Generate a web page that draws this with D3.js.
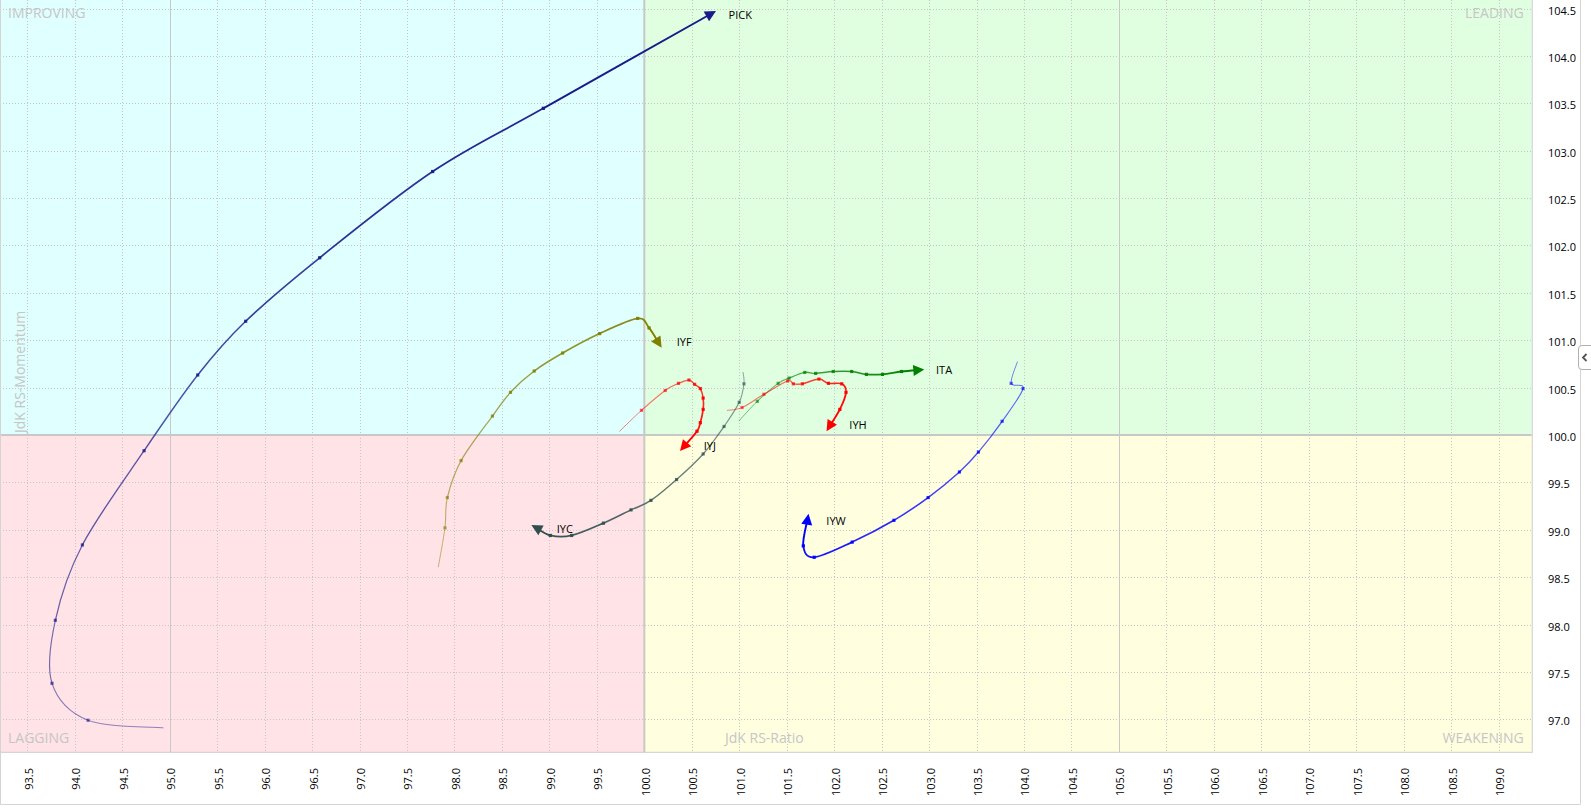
<!DOCTYPE html>
<html><head><meta charset="utf-8">
<script src="https://cdn.jsdelivr.net/npm/d3@7"></script>
<style>
html,body{margin:0;padding:0;background:#fff;overflow:hidden;}
svg{display:block;font-family:"Open Sans",sans-serif;}
</style></head><body>
<svg id="chart" width="1591" height="811"></svg>
<script>
// ---------- DATA ----------
const xTickLabels = ["93.5","94.0","94.5","95.0","95.5","96.0","96.5","97.0","97.5","98.0","98.5","99.0","99.5","100.0","100.5","101.0","101.5","102.0","102.5","103.0","103.5","104.0","104.5","105.0","105.5","106.0","106.5","107.0","107.5","108.0","108.5","109.0"];
const yTickLabels = ["97.0","97.5","98.0","98.5","99.0","99.5","100.0","100.5","101.0","101.5","102.0","102.5","103.0","103.5","104.0","104.5"];
const quadrantNames = ["IMPROVING","LEADING","LAGGING","WEAKENING"];
const xAxisTitle = "JdK RS-Ratio";
const yAxisTitle = "JdK RS-Momentum";
const symbols = ["PICK","IYF","IYC","IYJ","ITA","IYH","IYW"];

const pickRatio    = [94.93, 94.14, 93.76, 93.795, 94.08, 94.73, 95.295, 95.80, 96.58, 97.77, 98.936, 100.755];
const pickMomentum = [96.91, 96.99, 97.38, 98.045, 98.84, 99.834, 100.633, 101.20, 101.87, 102.78, 103.447, 104.474];

const iyfRatio     = [97.83, 97.90, 97.925, 98.07, 98.40, 98.59, 98.84, 99.14, 99.53, 99.93, 100.05, 100.183];
const iyfMomentum  = [98.61, 99.02, 99.34, 99.73, 100.20, 100.45, 100.675, 100.865, 101.07, 101.23, 101.13, 100.921];

const iycRatio     = [101.04, 101.05, 101.0, 100.84, 100.62, 100.34, 100.07, 99.86, 99.57, 99.235, 99.01, 98.81];
const iycMomentum  = [100.66, 100.54, 100.345, 100.09, 99.80, 99.53, 99.31, 99.21, 99.07, 98.94, 98.94, 99.05];

const iyjRatio     = [99.74, 99.97, 100.22, 100.36, 100.47, 100.53, 100.59, 100.62, 100.62, 100.59, 100.555, 100.376];
const iyjMomentum  = [100.04, 100.26, 100.47, 100.545, 100.58, 100.535, 100.49, 100.39, 100.27, 100.13, 100.04, 99.83];

const itaRatio     = [100.998, 101.19, 101.41, 101.525, 101.69, 101.805, 101.99, 102.185, 102.34, 102.51, 102.71, 102.95];
const itaMomentum  = [100.15, 100.355, 100.545, 100.60, 100.66, 100.65, 100.67, 100.67, 100.64, 100.64, 100.67, 100.69];

const iyhRatio     = [100.875, 101.03, 101.26, 101.51, 101.57, 101.665, 101.84, 101.94, 102.08, 102.125, 102.06, 101.92];
const iyhMomentum  = [100.26, 100.29, 100.43, 100.57, 100.54, 100.54, 100.59, 100.545, 100.54, 100.45, 100.27, 100.04];

const iywRatio     = [103.93, 103.865, 103.99, 103.77, 103.52, 103.32, 102.99, 102.63, 102.19, 101.79, 101.675, 101.73];
const iywMomentum  = [100.77, 100.545, 100.49, 100.145, 99.82, 99.61, 99.34, 99.10, 98.87, 98.71, 98.83, 99.17];

// ---------- STYLE ----------
const seriesColors = ["#1a1a8a","#808000","#2f4f4f","#ff0000","#008000","#ff0000","#0000ff"];
const quadrantFills = ["#e0ffff","#e0ffe0","#ffe3e7","#ffffe0"];

const series = [
  [pickRatio, pickMomentum], [iyfRatio, iyfMomentum], [iycRatio, iycMomentum],
  [iyjRatio, iyjMomentum], [itaRatio, itaMomentum], [iyhRatio, iyhMomentum], [iywRatio, iywMomentum]
].map((d, i) => ({ name: symbols[i], color: seriesColors[i], pts: d[0].map((r, k) => [r, d[1][k]]) }));

// ---------- LAYOUT ----------
const W = 1531.7, H = 752.3;
const x = d3.scaleLinear().domain([93.212, 109.349]).range([0, W]);
const y = d3.scaleLinear().domain([96.652, 104.59]).range([H, 0]);
const svg = d3.select("#chart");

const xVals = xTickLabels.map(Number);
const yVals = yTickLabels.map(Number);
const [xd0, xd1] = x.domain(), [yd0, yd1] = y.domain();

// quadrants
const quads = [
  {x0: xd0, x1: 100, y0: 100, y1: yd1},
  {x0: 100, x1: xd1, y0: 100, y1: yd1},
  {x0: xd0, x1: 100, y0: yd0, y1: 100},
  {x0: 100, x1: xd1, y0: yd0, y1: 100}
];
svg.append("g").selectAll("rect").data(quads).join("rect")
  .attr("x", d => x(d.x0)).attr("y", d => y(d.y1))
  .attr("width", d => x(d.x1) - x(d.x0)).attr("height", d => y(d.y0) - y(d.y1))
  .attr("fill", (d, i) => quadrantFills[i]);

// grid
const grid = svg.append("g");
xVals.forEach(v => {
  const px = Math.round(x(v)) + 0.5;
  const major = Math.abs(v % 5) < 1e-9;
  if (v === 100) return;
  grid.append("line").attr("x1", px).attr("x2", px).attr("y1", 0).attr("y2", H)
    .attr("stroke", major ? "#c8c8c8" : "#c6c6c6")
    .attr("stroke-dasharray", major ? null : "1,2");
});
yVals.forEach(v => {
  if (v === 100) return;
  const py = Math.round(y(v)) + 0.5;
  grid.append("line").attr("x1", 0).attr("x2", W).attr("y1", py).attr("y2", py)
    .attr("stroke", "#c6c6c6").attr("stroke-dasharray", "1,2");
});
grid.append("line").attr("x1", x(100)).attr("x2", x(100)).attr("y1", 0).attr("y2", H)
  .attr("stroke", "#c8c8c8").attr("stroke-width", 2);
grid.append("line").attr("x1", 0).attr("x2", W).attr("y1", y(100)).attr("y2", y(100))
  .attr("stroke", "#c8c8c8").attr("stroke-width", 2);

// quadrant labels
const ql = svg.append("g").attr("font-size", 14).attr("fill", "#c6c6c6");
ql.append("text").attr("x", 8).attr("y", 18).text(quadrantNames[0]);
ql.append("text").attr("x", W - 8).attr("y", 18).attr("text-anchor", "end").text(quadrantNames[1]);
ql.append("text").attr("x", 8).attr("y", 743).text(quadrantNames[2]);
ql.append("text").attr("x", W - 8).attr("y", 743).attr("text-anchor", "end").text(quadrantNames[3]);
ql.append("text").attr("x", 725).attr("y", 743).text(xAxisTitle);
ql.append("text").attr("transform", `translate(24.5,${y(100) - 2}) rotate(-90)`).text(yAxisTitle);

// plot border
svg.append("rect").attr("x", 0.5).attr("y", -1).attr("width", W).attr("height", H + 1)
  .attr("fill", "none").attr("stroke", "#cccccc");

// series
const tails = svg.append("g");
function bez(p0, p1, p2, p3) {
  const c1 = [p1[0] + (p2[0] - p0[0]) / 6, p1[1] + (p2[1] - p0[1]) / 6];
  const c2 = [p2[0] - (p3[0] - p1[0]) / 6, p2[1] - (p3[1] - p1[1]) / 6];
  const p = d3.path();
  p.moveTo(p1[0], p1[1]);
  p.bezierCurveTo(c1[0], c1[1], c2[0], c2[1], p2[0], p2[1]);
  return p.toString();
}
const L = 11, HW = 5.5;
series.forEach(s => {
  const P = s.pts.map(d => [x(d[0]), y(d[1])]);
  const n = P.length;
  const tip = P[n - 1], prev = P[n - 2];
  let dx = tip[0] - prev[0], dy = tip[1] - prev[1];
  const len = Math.hypot(dx, dy); dx /= len; dy /= len;
  const base = [tip[0] - dx * L, tip[1] - dy * L];
  const pts = P.slice(0, n - 1).concat([[tip[0] - dx * 4, tip[1] - dy * 4]]);
  const g = tails.append("g");
  for (let i = 0; i < n - 1; i++) {
    const t = i / (n - 2);
    const p0 = pts[Math.max(0, i - 1)], p1 = pts[i], p2 = pts[i + 1], p3 = pts[Math.min(n - 1, i + 2)];
    g.append("path").attr("d", bez(p0, p1, p2, p3))
      .attr("fill", "none").attr("stroke", s.color)
      .attr("stroke-opacity", 0.5 + 0.5 * t)
      .attr("stroke-width", 1 + 0.9 * t)
      .attr("stroke-linecap", "round");
  }
  for (let i = 1; i < n - 1; i++) {
    const t = i / (n - 2);
    g.append("rect").attr("x", P[i][0] - 1.6).attr("y", P[i][1] - 1.6)
      .attr("width", 3.2).attr("height", 3.2)
      .attr("fill", s.color).attr("fill-opacity", 0.55 + 0.45 * t);
  }
  const tri = d3.path();
  tri.moveTo(tip[0], tip[1]);
  tri.lineTo(base[0] - dy * HW, base[1] + dx * HW);
  tri.lineTo(base[0] + dy * HW, base[1] - dx * HW);
  tri.closePath();
  g.append("path").attr("d", tri.toString()).attr("fill", s.color);
  const cx = tip[0] - dx * L * 2 / 3, cy = tip[1] - dy * L * 2 / 3;
  g.append("text").attr("x", cx + 19).attr("y", cy + 4)
    .attr("font-size", 11).attr("fill", "#000").text(s.name);
});

// axes
const xAxis = svg.append("g").attr("transform", "translate(0,768)")
  .call(d3.axisBottom(x).tickValues(xVals).tickFormat(d3.format(".1f")).tickSize(0));
xAxis.select(".domain").remove();
xAxis.selectAll("text").attr("transform", "rotate(-90)").attr("text-anchor", "end")
  .attr("x", 0).attr("y", 0).attr("dy", "0.45em")
  .attr("font-family", "Open Sans").attr("font-size", 11).attr("fill", "#000");

const yAxis = svg.append("g").attr("transform", "translate(1548,0)")
  .call(d3.axisRight(y).tickValues(yVals).tickFormat(d3.format(".1f")).tickSize(0));
yAxis.select(".domain").remove();
yAxis.selectAll("text").attr("x", 0).attr("dy", "0.5em")
  .attr("font-family", "Open Sans").attr("font-size", 11).attr("fill", "#000");

// outer frame
svg.append("path").attr("d", "M0.5,0 V804.5 H1580.5 V0")
  .attr("fill", "none").attr("stroke", "#d4d4d4");

// collapse button
const btn = svg.append("g");
btn.append("path").attr("d", "M1591,345.5 H1582 Q1578.5,345.5 1578.5,349 V366 Q1578.5,369.5 1582,369.5 H1591")
  .attr("fill", "#fff").attr("stroke", "#b0b0b0");
btn.append("path").attr("d", "M1586.5,354 L1583,357.5 L1586.5,361")
  .attr("fill", "none").attr("stroke", "#555").attr("stroke-width", 1.8);
</script>
</body></html>
